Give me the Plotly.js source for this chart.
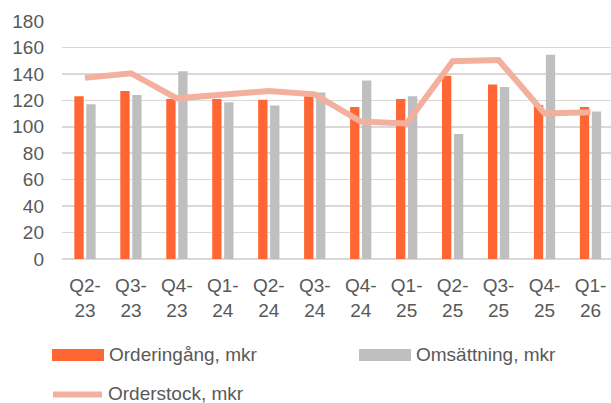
<!DOCTYPE html>
<html>
<head>
<meta charset="utf-8">
<script src="https://cdn.plot.ly/plotly-3.0.1.min.js"></script>
<style>html,body{margin:0;padding:0;background:#fff;}#chart{width:611px;height:403px;}</style>
</head>
<body>
<div id="chart"></div>
<script>
const categories = ["Q2-<br>23","Q3-<br>23","Q4-<br>23","Q1-<br>24","Q2-<br>24","Q3-<br>24","Q4-<br>24","Q1-<br>25","Q2-<br>25","Q3-<br>25","Q4-<br>25","Q1-<br>26"];
const orderingang = [123,127,121,121,120.5,123,115,121,138.5,132,116.5,115];
const omsattning = [117,124,142,118.5,116,126,135,123,94.5,130,154.5,111.5];
const orderstock = [137,140.5,121.5,124,127,124.5,104,102.5,149.5,150.5,110,111];
const seriesNames = ["Orderingång, mkr","Omsättning, mkr","Orderstock, mkr"];

const FONT = "Liberation Sans, Arial, sans-serif";
const FS = 19;
const TXT = "#595959";
const C_ORDER = "#FF6633";
const C_OMS = "#BFBFBF";
const C_STOCK = "#F4B09E";

const traces = [
  {type:"bar", x:categories, y:orderingang, name:seriesNames[0], marker:{color:C_ORDER}, showlegend:false, hoverinfo:"skip"},
  {type:"bar", x:categories, y:omsattning, name:seriesNames[1], marker:{color:C_OMS}, showlegend:false, hoverinfo:"skip"},
  {type:"scatter", mode:"lines", x:categories, y:orderstock, name:seriesNames[2], line:{color:C_STOCK, width:6}, showlegend:false, hoverinfo:"skip"}
];

// plot area in pixels: x 62..611, y 21..259
const L=62, R=611, T=21, B=259;
const px = v => (v - L)/(R - L);
const py = v => (B - v)/(B - T);

const shapes = [
  {type:"rect", xref:"paper", yref:"paper", x0:px(52), x1:px(104), y0:py(361), y1:py(349), fillcolor:C_ORDER, line:{width:0}},
  {type:"rect", xref:"paper", yref:"paper", x0:px(359), x1:px(411), y0:py(361), y1:py(349), fillcolor:C_OMS, line:{width:0}},
  {type:"line", xref:"paper", yref:"paper", x0:px(53), x1:px(102), y0:py(394.5), y1:py(394.5), line:{color:C_STOCK, width:6}}
];
const annotations = [
  {xref:"paper", yref:"paper", x:px(107), y:py(354), text:seriesNames[0], showarrow:false, xanchor:"left", yanchor:"middle", font:{family:FONT, size:FS, color:TXT}},
  {xref:"paper", yref:"paper", x:px(414), y:py(354), text:seriesNames[1], showarrow:false, xanchor:"left", yanchor:"middle", font:{family:FONT, size:FS, color:TXT}},
  {xref:"paper", yref:"paper", x:px(107), y:py(393), text:seriesNames[2], showarrow:false, xanchor:"left", yanchor:"middle", borderpad:0, font:{family:FONT, size:FS, color:TXT}}
];

const layout = {
  width:611, height:403,
  margin:{l:L, r:0, t:T, b:403-B, pad:0},
  paper_bgcolor:"#fff", plot_bgcolor:"#fff",
  barmode:"group", bargap:0.48, bargroupgap:0.22,
  font:{family:FONT, size:FS, color:TXT},
  xaxis:{type:"category", range:[-0.5, 11.446], showgrid:false, ticks:"", showline:false, zeroline:false,
         tickfont:{family:FONT, size:FS, color:TXT}, ticklabelstandoff:13, automargin:false},
  yaxis:{range:[0,180], dtick:20, showgrid:true, gridcolor:"#D9D9D9", gridwidth:1.5, zeroline:true, zerolinecolor:"#D9D9D9", zerolinewidth:1.5,
         showline:false, ticks:"", tickfont:{family:FONT, size:FS, color:TXT}, ticklabelstandoff:17, automargin:false},
  shapes:shapes, annotations:annotations,
  showlegend:false
};

Plotly.newPlot("chart", traces, layout, {displayModeBar:false, staticPlot:true});
</script>
</body>
</html>
